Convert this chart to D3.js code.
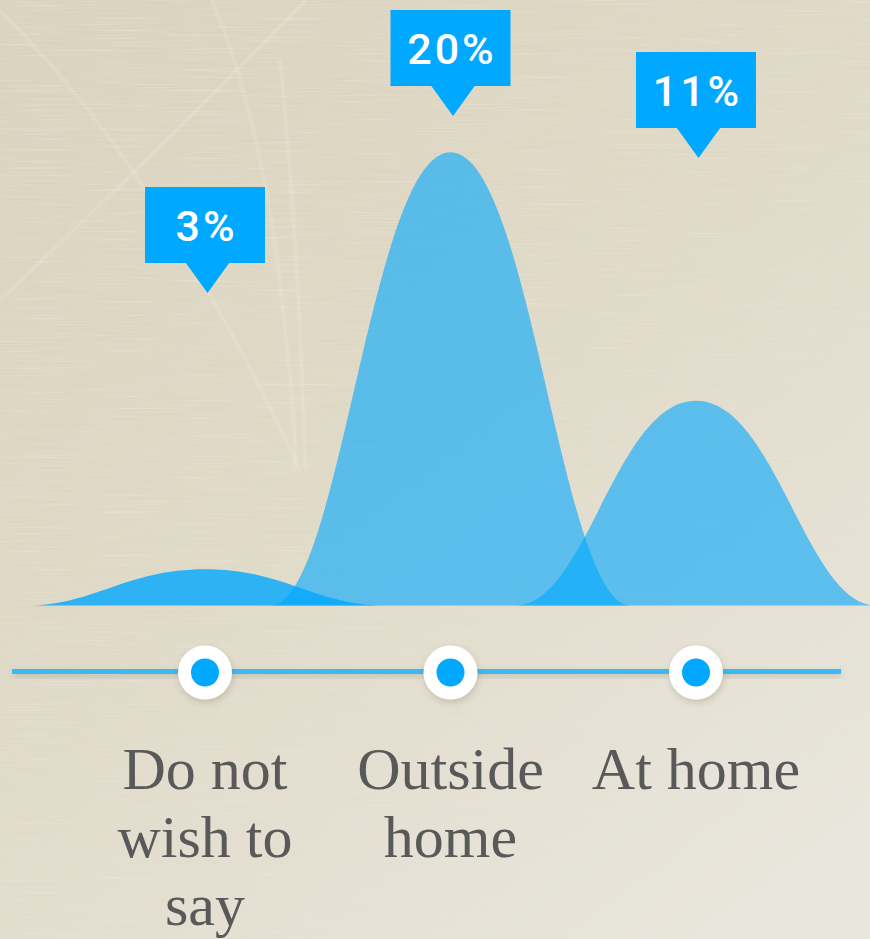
<!DOCTYPE html>
<html>
<head>
<meta charset="utf-8">
<script src="https://cdn.jsdelivr.net/npm/d3@7"></script>
<style>
  html, body { margin: 0; padding: 0; overflow: hidden; background: #e2dccb; }
  svg { display: block; }
</style>
</head>
<body>
<svg id="chart"></svg>
<script>
// ---- data ----
const categories = ["Do not wish to say", "Outside home", "At home"];
const shares = [3, 20, 11];
const shareLabels = ["3%", "20%", "11%"];

// ---- layout & style ----
const W = 870, H = 939;
const baseY = 605.5;          // ground line of the bell shapes
const peakMaxY = 152.3;       // top of the tallest bell
const halfWidth = 180;        // half base width of every bell
const timelineY = 671.5;
const blue = "#00a8ff";
const bellOpacity = [0.8, 0.6, 0.6];

const svg = d3.select("#chart").attr("width", W).attr("height", H);
const defs = svg.append("defs");

// paper background gradient
const bg = defs.append("linearGradient").attr("id", "paper")
  .attr("x1", "0.15").attr("y1", "0").attr("x2", "0.85").attr("y2", "1");
bg.append("stop").attr("offset", "0").attr("stop-color", "#dbd4c0");
bg.append("stop").attr("offset", "0.45").attr("stop-color", "#e0dac8");
bg.append("stop").attr("offset", "1").attr("stop-color", "#e9e6dd");

// horizontal fibre streaks
const fibre = defs.append("filter").attr("id", "fibre")
  .attr("x", 0).attr("y", 0).attr("width", "100%").attr("height", "100%");
fibre.append("feTurbulence").attr("type", "fractalNoise")
  .attr("baseFrequency", "0.012 0.7").attr("numOctaves", 2).attr("seed", 7).attr("result", "n");
fibre.append("feColorMatrix").attr("type", "matrix")
  .attr("values", "0 0 0 0 1  0 0 0 0 0.99  0 0 0 0 0.95  2.4 0 0 0 -1.3");

const fibreDark = defs.append("filter").attr("id", "fibreDark")
  .attr("x", 0).attr("y", 0).attr("width", "100%").attr("height", "100%");
fibreDark.append("feTurbulence").attr("type", "fractalNoise")
  .attr("baseFrequency", "0.01 0.65").attr("numOctaves", 2).attr("seed", 19).attr("result", "n");
fibreDark.append("feColorMatrix").attr("type", "matrix")
  .attr("values", "0 0 0 0 0.55  0 0 0 0 0.5  0 0 0 0 0.4  -2.2 0 0 0 1.0");

// fade the streaks toward the lower right
const fade = defs.append("linearGradient").attr("id", "fadeGrad")
  .attr("x1", "0").attr("y1", "0").attr("x2", "0.9").attr("y2", "1");
fade.append("stop").attr("offset", "0").attr("stop-color", "#fff").attr("stop-opacity", 1);
fade.append("stop").attr("offset", "0.55").attr("stop-color", "#fff").attr("stop-opacity", 0.6);
fade.append("stop").attr("offset", "1").attr("stop-color", "#fff").attr("stop-opacity", 0.05);
defs.append("mask").attr("id", "fadeMask")
  .append("rect").attr("width", W).attr("height", H).attr("fill", "url(#fadeGrad)");

defs.append("filter").attr("id", "soft").append("feGaussianBlur").attr("stdDeviation", 0.9);

const shadow = defs.append("filter").attr("id", "shadow")
  .attr("x", "-30%").attr("y", "-100%").attr("width", "160%").attr("height", "300%");
shadow.append("feDropShadow").attr("dx", 1).attr("dy", 3).attr("stdDeviation", 3)
  .attr("flood-color", "#5a4a30").attr("flood-opacity", 0.22);

svg.append("rect").attr("width", W).attr("height", H).attr("fill", "url(#paper)");
const tex = svg.append("g").attr("mask", "url(#fadeMask)");
tex.append("rect").attr("width", W).attr("height", H).attr("filter", "url(#fibre)").attr("opacity", 0.35);
tex.append("rect").attr("width", W).attr("height", H).attr("filter", "url(#fibreDark)").attr("opacity", 0.08);

// faint scratches on the paper
const scratches = [
  "M -10 2 Q 150 150 300 470",
  "M 212 0 Q 262 120 282 300 T 292 470",
  "M 306 0 Q 170 140 0 300",
  "M 280 60 Q 300 260 305 470"
];
svg.append("g").attr("filter", "url(#soft)")
  .selectAll("path").data(scratches).join("path")
  .attr("d", d => d).attr("fill", "none")
  .attr("stroke", "#f2ede0").attr("stroke-opacity", 0.3).attr("stroke-width", 2.6);

// ---- scales ----
const x = d3.scalePoint().domain(categories).range([205, 696]);
const y = d3.scalePow().exponent(1.33).domain([0, 20]).range([baseY, peakMaxY]);
const calloutTip = d3.scaleLinear().domain([3, 11, 20]).range([293, 158, 116]);

const rows = categories.map((c, i) => ({ c, v: shares[i], label: shareLabels[i], op: bellOpacity[i] }));

// ---- bell shapes ----
function bell(cx, top) {
  const p = d3.path();
  p.moveTo(cx - halfWidth, baseY);
  p.bezierCurveTo(cx - 110, baseY, cx - 80, top, cx, top);
  p.bezierCurveTo(cx + 80, top, cx + 110, baseY, cx + halfWidth, baseY);
  p.closePath();
  return p.toString();
}
svg.append("g").selectAll("path").data(rows).join("path")
  .attr("d", d => bell(x(d.c), y(d.v)))
  .attr("fill", blue).attr("fill-opacity", d => d.op);

// ---- callouts ----
const boxW = 120, boxH = 76, tipH = 30, tipHalf = 22, tipShift = 2.5;
const callouts = svg.append("g").selectAll("g").data(rows).join("g")
  .attr("transform", d => `translate(${x(d.c)},${calloutTip(d.v)})`);
callouts.append("rect")
  .attr("x", -boxW / 2).attr("y", -tipH - boxH).attr("width", boxW).attr("height", boxH)
  .attr("fill", blue);
callouts.append("path")
  .attr("d", d3.line()([[-tipHalf + tipShift, -tipH - 0.5], [tipHalf + tipShift, -tipH - 0.5], [tipShift, 0]]) + "Z")
  .attr("fill", blue);
callouts.append("text")
  .attr("x", 1.5).attr("y", -tipH - boxH + 53.5)
  .attr("text-anchor", "middle")
  .attr("fill", "#fff")
  .style("font-family", "Roboto, 'Open Sans', sans-serif")
  .style("font-weight", 500)
  .style("font-size", "43px")
  .style("letter-spacing", "3px")
  .text(d => d.label);

// ---- timeline ----
const tl = svg.append("g");
tl.append("rect")
  .attr("x", 12).attr("width", 829).attr("y", timelineY - 2.5).attr("height", 5)
  .attr("fill", "#3bb9f5")
  .attr("filter", "url(#shadow)");
const nodes = tl.selectAll("g.node").data(rows).join("g").attr("class", "node")
  .attr("transform", d => `translate(${x(d.c)},${timelineY + 1})`);
nodes.append("circle").attr("r", 27).attr("fill", "#fff").attr("filter", "url(#shadow)");
nodes.append("circle").attr("r", 14).attr("fill", blue);

// ---- category labels ----
const labelFirstBaseline = 789, lineH = 68, wrapWidth = 235;
const labels = svg.append("g").selectAll("text").data(rows).join("text")
  .attr("text-anchor", "middle")
  .attr("fill", "#595959")
  .style("font-family", "'Liberation Serif', 'Times New Roman', serif")
  .style("font-size", "60px");

labels.each(function (d) {
  const t = d3.select(this);
  const words = d.c.split(" ");
  const lines = [];
  let cur = [];
  const probe = t.append("tspan");
  words.forEach(w => {
    const trial = cur.concat(w).join(" ");
    probe.text(trial);
    if (cur.length && probe.node().getComputedTextLength() > wrapWidth) {
      lines.push(cur.join(" "));
      cur = [w];
    } else {
      cur.push(w);
    }
  });
  if (cur.length) lines.push(cur.join(" "));
  probe.remove();
  lines.forEach((ln, i) => {
    t.append("tspan").attr("x", x(d.c)).attr("y", labelFirstBaseline + i * lineH).text(ln);
  });
});
</script>
</body>
</html>
